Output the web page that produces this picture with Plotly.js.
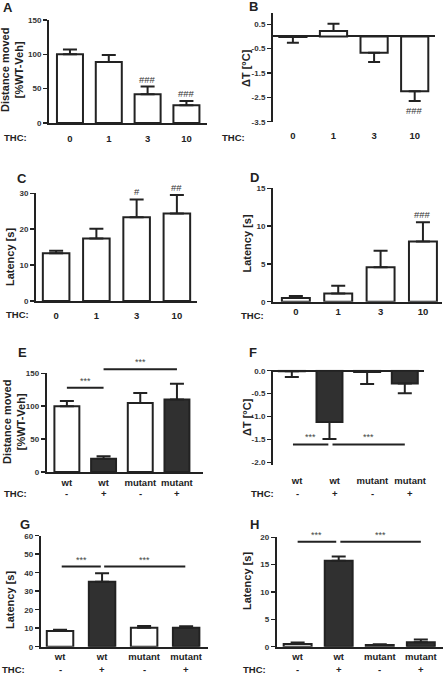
<!DOCTYPE html>
<html><head><meta charset="utf-8">
<script src="https://cdn.plot.ly/plotly-3.0.1.min.js"></script>
<style>html,body{margin:0;padding:0;background:#fff}#chart{width:445px;height:676px}</style>
</head><body><div id="chart"></div>
<script>
// ---------------- DATA ----------------
const doseLabels = ['0', '1', '3', '10'];
const groupLabels = ['wt', 'wt', 'mutant', 'mutant'];
const thcSigns = ['-', '+', '-', '+'];
const groupFill = ['white', 'dark', 'white', 'dark'];

const distA = [100, 89, 42, 26];
const distAErr = [7, 10, 11, 6];
const hashA = ['', '', '###', '###'];

const tempB = [-0.02, 0.22, -0.67, -2.25];
const tempBErr = [0.24, 0.30, 0.38, 0.40];
const hashB = ['', '', '', '###'];

const latC = [13.3, 17.4, 23.3, 24.4];
const latCErr = [0.7, 2.7, 5.0, 5.1];
const hashC = ['', '', '#', '##'];

const latD = [0.5, 1.1, 4.55, 7.95];
const latDErr = [0.25, 1.0, 2.2, 2.55];
const hashD = ['', '', '', '###'];

const distE = [100, 20, 105, 110];
const distEErr = [8, 4, 15, 24];
const sigEx = [[0, 1], [1, 3]];
const sigEy = [128, 156];

const tempF = [-0.01, -1.12, -0.03, -0.28];
const tempFErr = [0.13, 0.37, 0.26, 0.21];
const sigFx = [[0.03, 0.97], [1.08, 3.0]];
const sigFy = [-1.61, -1.61];

const latG = [8.5, 35.1, 10.3, 10.3];
const latGErr = [0.7, 4.6, 0.9, 0.8];
const sigGx = [[0.04, 0.97], [1.05, 2.98]];
const sigGy = [43.3, 43.3];

const latH = [0.5, 15.7, 0.3, 0.8];
const latHErr = [0.25, 0.8, 0.15, 0.5];
const sigHx = [[0, 0.94], [1.04, 3.0]];
const sigHy = [19.2, 19.2];

const sigText = '***';
const thcText = 'THC:';
const yTitleDist = 'Distance moved<br>[%WT-Veh]';
const yTitleTemp = '\u0394T [\u00B0C]';
const yTitleLat = 'Latency [s]';

// ---------------- STYLE / LAYOUT ----------------
const W = 445, H = 676;
const FONT = '"Liberation Sans", Arial, sans-serif';
const INK = '#222222';
const DARK = '#303030';
const px2x = p => p / W;
const px2y = p => 1 - p / H;
const fillColor = k => (k === 'dark' ? DARK : '#ffffff');

const panels = [
  {k: 1, letter: 'A', letterPos: [8, 8], xd: [49, 207], yd: [20, 123], xr: [-0.54, 3.53], yr: [0, 150],
   yt: [0, 50, 100, 150], vals: distA, err: distAErr, hash: hashA, fills: null, bw: 0.67,
   xlab: doseLabels, signs: null, xline: true, zero: false, stand: 6, thc: [3, 137],
   title: yTitleDist, titlePos: [12, 70], capw: 7, lblOff: 0},
  {k: 2, letter: 'B', letterPos: [253, 6], xd: [273, 435], yd: [13.3, 121.7], xr: [-0.49, 3.5], yr: [-3.5, 0.95],
   yt: [0.5, -0.5, -1.5, -2.5, -3.5], vals: tempB, err: tempBErr, hash: hashB, fills: null, bw: 0.67,
   xlab: doseLabels, signs: null, xline: false, zero: true, stand: 7, thc: [221, 137],
   title: yTitleTemp, titlePos: [246, 68], capw: 6, lblOff: 0},
  {k: 3, letter: 'C', letterPos: [22, 179], xd: [36, 197], yd: [193.3, 301], xr: [-0.5, 3.5], yr: [0, 30],
   yt: [0, 10, 20, 30], vals: latC, err: latCErr, hash: hashC, fills: null, bw: 0.66,
   xlab: doseLabels, signs: null, xline: true, zero: false, stand: 5, thc: [5, 314],
   title: yTitleLat, titlePos: [10, 257], capw: 7, lblOff: 0},
  {k: 4, letter: 'D', letterPos: [254, 177], xd: [273, 442], yd: [188.3, 301.7], xr: [-0.54, 3.45], yr: [0, 15],
   yt: [0, 5, 10, 15], vals: latD, err: latDErr, hash: hashD, fills: null, bw: 0.66,
   xlab: doseLabels, signs: null, xline: true, zero: false, stand: 5.5, thc: [240, 315],
   title: yTitleLat, titlePos: [246.5, 244], capw: 7, lblOff: 0},
  {k: 5, letter: 'E', letterPos: [22, 352], xd: [46.7, 203], yd: [373.3, 472], xr: [-0.55, 3.71], yr: [0, 150],
   yt: [0, 50, 100, 150], vals: distE, err: distEErr, hash: null, fills: groupFill, bw: 0.68,
   xlab: groupLabels, signs: thcSigns, signY: 494, xline: true, zero: false, stand: 1, thc: [3, 494],
   sigx: sigEx, sigy: sigEy, title: yTitleDist, titlePos: [14, 422], capw: 7, lblOff: 0},
  {k: 6, letter: 'F', letterPos: [253, 352], xd: [273, 424], yd: [369.8, 465], xr: [-0.5, 3.51], yr: [-2.06, 0.02],
   yt: [0, -0.5, -1, -1.5, -2], ytt: ['0.0', '-0.5', '-1.0', '-1.5', '-2.0'], vals: tempF, err: tempFErr, hash: null,
   fills: groupFill, bw: 0.69, xlab: groupLabels, signs: thcSigns, signY: 494, xline: false, zero: true, stand: 8,
   thc: [250, 494], sigx: sigFx, sigy: sigFy, title: yTitleTemp, titlePos: [247, 417], capw: 7, lblOff: 0.14},
  {k: 7, letter: 'G', letterPos: [25, 524], xd: [40.7, 208], yd: [535.7, 646.7], xr: [-0.46, 3.52], yr: [0, 60],
   yt: [0, 10, 20, 30, 40, 50, 60], vals: latG, err: latGErr, hash: null, fills: groupFill, bw: 0.63,
   xlab: groupLabels, signs: thcSigns, signY: 669.5, xline: true, zero: false, stand: 1.5, thc: [1, 669.5],
   sigx: sigGx, sigy: sigGy, title: yTitleLat, titlePos: [10, 600], capw: 7, lblOff: 0},
  {k: 8, letter: 'H', letterPos: [254, 524], xd: [276.7, 443], yd: [537.3, 646.7], xr: [-0.51, 3.54], yr: [0, 20],
   yt: [0, 5, 10, 15, 20], vals: latH, err: latHErr, hash: null, fills: groupFill, bw: 0.68,
   xlab: groupLabels, signs: thcSigns, signY: 669.5, xline: true, zero: false, stand: 1.5, thc: [242, 669.5],
   sigx: sigHx, sigy: sigHy, title: yTitleLat, titlePos: [247, 581], capw: 7, lblOff: 0}
];

const data = [];
const layout = {
  width: W, height: H, margin: {l: 0, r: 0, t: 0, b: 0},
  paper_bgcolor: '#ffffff', plot_bgcolor: 'rgba(0,0,0,0)',
  showlegend: false, bargap: 0, font: {family: FONT, color: INK},
  annotations: []
};

const EXTRA = 24; // px of headroom for significance brackets above the plotted axis

panels.forEach(p => {
  const xa = 'x' + p.k, ya = 'y' + p.k;
  const xs = p.vals.map((_, i) => i);
  const up = p.vals.map((v, i) => (v >= 0 ? p.err[i] : 0));
  const down = p.vals.map((v, i) => (v < 0 ? p.err[i] : 0));
  const fills = p.fills ? p.fills.map(fillColor) : p.vals.map(() => '#ffffff');
  data.push({
    type: 'bar', x: xs, y: p.vals, xaxis: xa, yaxis: ya, width: p.bw,
    marker: {color: fills, line: {color: INK, width: 2}},
    error_y: {type: 'data', symmetric: false, array: up, arrayminus: down,
              color: INK, thickness: 2, width: p.capw},
    hoverinfo: 'skip'
  });
  if (p.sigx) {
    const ka = 'y' + (p.k + 10);
    const hpx = p.yd[1] - p.yd[0];
    const r1 = p.yr[0] + (p.yr[1] - p.yr[0]) * (hpx + EXTRA) / hpx;
    layout['yaxis' + (p.k + 10)] = {
      domain: [px2y(p.yd[1]), px2y(p.yd[0] - EXTRA)], range: [p.yr[0], r1], anchor: xa,
      visible: false, showgrid: false, zeroline: false, fixedrange: true
    };
    p.sigx.forEach((sx, j) => {
      data.push({type: 'scatter', mode: 'lines', x: sx, y: [p.sigy[j], p.sigy[j]],
                 xaxis: xa, yaxis: ka, line: {color: INK, width: 2}, hoverinfo: 'skip'});
      layout.annotations.push({xref: xa, yref: ka, x: (sx[0] + sx[1]) / 2, y: p.sigy[j],
        text: sigText, showarrow: false, yanchor: 'bottom', yshift: 0,
        font: {family: FONT, size: 9, color: '#444'}});
    });
  }
  const xaxis = {
    domain: [px2x(p.xd[0]), px2x(p.xd[1])], range: p.xr, anchor: ya,
    showline: p.xline, linecolor: INK, linewidth: 2, ticks: '', showgrid: false, zeroline: false,
    tickmode: 'array', tickvals: xs.map(v => v + p.lblOff), ticktext: p.xlab, ticklabelstandoff: p.stand,
    tickfont: {family: FONT, size: 9.5, weight: 700, color: INK}, fixedrange: true
  };
  const yaxis = {
    domain: [px2y(p.yd[1]), px2y(p.yd[0])], range: p.yr, anchor: xa,
    showline: true, linecolor: INK, linewidth: 2, ticks: 'outside', ticklen: 4, tickwidth: 1.5, tickcolor: INK,
    showgrid: false, zeroline: p.zero, zerolinecolor: INK, zerolinewidth: 2,
    tickmode: 'array', tickvals: p.yt, ticktext: p.ytt || p.yt.map(v => String(v)),
    tickfont: {family: FONT, size: 8, weight: 700, color: '#333'}, fixedrange: true
  };
  layout['xaxis' + p.k] = xaxis;
  layout['yaxis' + p.k] = yaxis;

  layout.annotations.push({xref: 'paper', yref: 'paper', x: px2x(p.letterPos[0]), y: px2y(p.letterPos[1]),
    text: p.letter, showarrow: false, xanchor: 'center', yanchor: 'middle',
    font: {family: FONT, size: 13, weight: 700, color: INK}});
  layout.annotations.push({xref: 'paper', yref: 'paper', x: px2x(p.titlePos[0]), y: px2y(p.titlePos[1]),
    text: p.title, showarrow: false, textangle: -90, xanchor: 'center', yanchor: 'middle',
    font: {family: FONT, size: 11, weight: 700, color: INK}});
  layout.annotations.push({xref: 'paper', yref: 'paper', x: px2x(p.thc[0]), y: px2y(p.thc[1]),
    text: thcText, showarrow: false, xanchor: 'left', yanchor: 'middle', borderpad: 0,
    font: {family: FONT, size: 9.5, weight: 700, color: INK}});
  if (p.signs) {
    p.signs.forEach((s, i) => {
      layout.annotations.push({xref: xa, yref: 'paper', x: i + p.lblOff, y: px2y(p.signY), text: s,
        showarrow: false, xanchor: 'center', yanchor: 'middle', borderpad: 0,
        font: {family: FONT, size: 9.5, weight: 700, color: INK}});
    });
  }
  if (p.hash) {
    p.hash.forEach((h, i) => {
      if (!h) return;
      const v = p.vals[i];
      const pos = v >= 0;
      layout.annotations.push({xref: xa, yref: ya, x: i, y: pos ? v + p.err[i] : v - p.err[i],
        text: h, showarrow: false, yanchor: pos ? 'bottom' : 'top', yshift: pos ? 0 : -2,
        font: {family: FONT, size: 9.5, color: '#333'}});
    });
  }
});

Plotly.newPlot('chart', data, layout, {staticPlot: true, displayModeBar: false});
</script>
</body></html>
